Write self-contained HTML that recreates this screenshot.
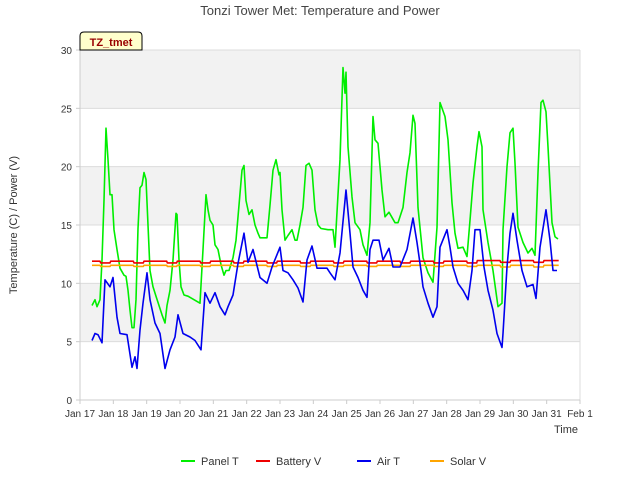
<!DOCTYPE html>
<html><head><meta charset="utf-8"><style>
body{margin:0;background:#fff;}
svg{display:block;font-family:"Liberation Sans","DejaVu Sans",sans-serif;}
</style></head><body>
<svg id="c" width="640" height="480" viewBox="0 0 640 480">
<text x="320" y="15" text-anchor="middle" font-size="13" fill="#444">Tonzi Tower Met: Temperature and Power</text>
<g id="bands"></g>
<g id="grid"></g>
<g id="series"></g>
<g id="axes"></g>
<text transform="translate(17,225) rotate(-90)" text-anchor="middle" font-size="11" fill="#333">Temperature (C) / Power (V)</text>
<text x="566" y="433" text-anchor="middle" font-size="11" fill="#333">Time</text>
<g>
<path d="M80,50 L80,36 Q80,32 84,32 L138,32 Q142,32 142,36 L142,50 Z" fill="#ffffcc" stroke="#000" stroke-width="1"/>
<text x="111" y="46" text-anchor="middle" font-size="11" font-weight="bold" fill="#990000">TZ_tmet</text>
</g>
<g id="legend">
<g><line x1="181" y1="461" x2="195" y2="461" stroke="#00ee00" stroke-width="2"/><text x="201" y="465" font-size="11" fill="#333">Panel T</text></g>
<g><line x1="256" y1="461" x2="270" y2="461" stroke="#ee0000" stroke-width="2"/><text x="276" y="465" font-size="11" fill="#333">Battery V</text></g>
<g><line x1="357" y1="461" x2="371" y2="461" stroke="#0000ee" stroke-width="2"/><text x="377" y="465" font-size="11" fill="#333">Air T</text></g>
<g><line x1="430" y1="461" x2="444" y2="461" stroke="#ffa500" stroke-width="2"/><text x="450" y="465" font-size="11" fill="#333">Solar V</text></g>
</g>
</svg>
<script>
const xTickLabels=["Jan 17","Jan 18","Jan 19","Jan 20","Jan 21","Jan 22","Jan 23","Jan 24","Jan 25","Jan 26","Jan 27","Jan 28","Jan 29","Jan 30","Jan 31","Feb 1"];
const yTicks=[0,5,10,15,20,25,30];
const panelT=[.36,8.1,.45,8.6,.51,8.0,.6,8.6,.66,12.0,.72,17.1,.78,23.3,.84,20.6,.9,17.6,.96,17.6,1.02,14.6,1.11,12.9,1.2,11.3,1.32,10.7,1.38,10.6,1.44,9.4,1.5,7.7,1.56,6.2,1.62,6.2,1.68,8.6,1.74,14.7,1.8,18.2,1.86,18.4,1.92,19.5,1.98,18.9,2.04,15.0,2.1,11.1,2.19,9.7,2.28,8.9,2.37,8.1,2.46,7.3,2.55,6.6,2.61,8.1,2.7,9.4,2.79,12.0,2.88,16.0,2.91,15.9,2.97,12.0,3.03,9.7,3.12,9.0,3.24,8.9,3.42,8.6,3.6,8.3,3.69,12.9,3.78,17.6,3.84,16.3,3.9,15.4,3.99,15.0,4.05,13.3,4.14,12.9,4.23,11.6,4.32,10.7,4.38,11.1,4.47,11.1,4.59,12.2,4.68,13.7,4.77,16.7,4.86,19.7,4.92,20.1,4.98,17.1,5.07,15.9,5.16,16.3,5.25,15.0,5.34,14.3,5.4,13.9,5.61,13.9,5.7,16.7,5.79,19.7,5.88,20.6,5.97,19.3,6.0,19.5,6.06,16.3,6.15,13.7,6.24,14.1,6.36,14.6,6.45,13.7,6.51,13.7,6.6,15.0,6.69,16.5,6.78,20.1,6.87,20.3,6.96,19.7,7.05,16.3,7.14,15.0,7.23,14.7,7.44,14.6,7.59,14.6,7.65,13.1,7.8,20.6,7.89,28.5,7.95,26.3,7.98,28.1,8.04,21.7,8.16,17.4,8.25,15.2,8.4,14.6,8.49,13.3,8.61,12.4,8.7,15.2,8.79,24.3,8.85,22.3,8.94,22.0,9.06,18.0,9.15,15.7,9.27,16.1,9.45,15.2,9.54,15.2,9.69,16.5,9.81,19.5,9.9,21.2,9.99,24.4,10.05,23.7,10.14,16.5,10.29,12.2,10.44,10.9,10.59,10.1,10.71,14.8,10.8,25.5,10.95,24.3,11.04,22.3,11.16,16.9,11.25,14.3,11.34,13.0,11.49,13.1,11.61,12.3,11.7,15.4,11.79,18.6,11.91,21.7,11.97,23.0,12.06,21.7,12.09,16.3,12.24,13.5,12.39,11.1,12.54,8.0,12.66,8.3,12.69,14.6,12.81,20.0,12.9,22.9,12.99,23.3,13.05,20.3,13.14,14.8,13.29,13.5,13.44,12.6,13.56,13.0,13.65,12.4,13.74,19.5,13.83,25.5,13.89,25.7,13.98,24.7,14.04,21.7,14.16,15.2,14.25,14.0,14.34,13.8];
const airT=[.36,5.1,.45,5.7,.54,5.6,.66,4.9,.75,10.3,.9,9.7,.99,10.5,1.11,7.1,1.2,5.7,1.41,5.6,1.56,2.8,1.65,3.7,1.71,2.7,1.8,6.0,1.89,8.3,2.01,10.9,2.1,8.6,2.25,6.6,2.4,5.7,2.55,2.7,2.7,4.3,2.85,5.4,2.94,7.3,3.09,5.7,3.3,5.4,3.45,5.1,3.63,4.3,3.75,9.2,3.9,8.3,4.05,9.2,4.2,8.0,4.35,7.3,4.44,8.0,4.59,9.0,4.74,11.7,4.92,14.3,5.04,11.8,5.19,12.9,5.4,10.5,5.61,10.0,5.76,11.4,6.0,13.1,6.09,11.1,6.24,10.9,6.39,10.3,6.54,9.6,6.69,8.4,6.81,12.0,6.96,13.2,7.11,11.3,7.41,11.3,7.5,10.9,7.65,10.3,7.8,12.6,7.98,18.0,8.1,14.3,8.19,11.4,8.34,10.5,8.49,9.4,8.61,8.8,8.7,12.9,8.79,13.7,8.97,13.7,9.09,12.0,9.27,13.0,9.39,11.4,9.6,11.4,9.81,12.9,9.99,15.6,10.11,13.5,10.23,11.1,10.29,9.7,10.44,8.3,10.59,7.1,10.71,8.0,10.8,13.1,11.01,14.6,11.1,13.1,11.19,11.4,11.34,10.0,11.49,9.4,11.64,8.6,11.76,11.1,11.85,14.6,12.0,14.6,12.12,11.4,12.24,9.4,12.39,7.7,12.51,5.7,12.66,4.5,12.69,5.7,12.81,11.4,12.9,14.3,12.99,16.0,13.11,13.7,13.26,11.1,13.41,9.7,13.59,9.9,13.68,8.7,13.8,13.1,13.98,16.3,14.1,13.7,14.19,11.1,14.31,11.1];
const batteryV=[.36,11.9,.6,11.9,.62,11.75,.9,11.75,.92,11.9,1.6,11.9,1.62,11.75,1.9,11.75,1.92,11.9,2.6,11.9,2.62,11.75,2.9,11.75,2.92,11.9,3.6,11.9,3.62,11.75,3.9,11.75,3.92,11.9,4.6,11.9,4.62,11.75,4.9,11.75,4.92,11.9,5.6,11.9,5.62,11.75,5.9,11.75,5.92,11.9,6.6,11.9,6.62,11.75,6.9,11.75,6.92,11.9,7.6,11.9,7.62,11.75,7.9,11.75,7.92,11.9,8.6,11.9,8.62,11.75,8.9,11.75,8.92,11.9,9.6,11.9,9.62,11.75,9.9,11.75,9.92,11.9,10.6,11.9,10.62,11.75,10.9,11.75,10.92,11.9,11.6,11.9,11.62,11.75,11.9,11.75,11.92,11.95,12.6,11.95,12.62,11.8,12.9,11.8,12.92,11.95,13.6,11.95,13.62,11.8,13.9,11.8,13.92,11.95,14.36,11.95];
const solarV=[.36,11.55,.6,11.55,.62,11.45,.9,11.45,.92,11.55,1.6,11.55,1.62,11.45,1.9,11.45,1.92,11.55,2.6,11.55,2.62,11.45,2.9,11.45,2.92,11.55,3.6,11.55,3.62,11.45,3.9,11.45,3.92,11.55,4.6,11.55,4.62,11.45,4.9,11.45,4.92,11.55,5.6,11.55,5.62,11.45,5.9,11.45,5.92,11.55,6.6,11.55,6.62,11.45,6.9,11.45,6.92,11.55,7.6,11.55,7.62,11.45,7.9,11.45,7.92,11.55,8.6,11.55,8.62,11.45,8.9,11.45,8.92,11.55,9.6,11.55,9.62,11.45,9.9,11.45,9.92,11.55,10.6,11.55,10.62,11.45,10.9,11.45,10.92,11.55,11.6,11.55,11.62,11.45,11.9,11.45,11.92,11.55,12.6,11.55,12.62,11.4,12.9,11.4,12.92,11.55,13.6,11.55,13.62,11.4,13.9,11.4,13.92,11.55,14.36,11.55];

const NS="http://www.w3.org/2000/svg";
const L=80,R=580,T=50,B=400;
function xs(d){return L+(R-L)*d/15;}
function ys(v){return B-(B-T)*v/30;}
function mk(tag,attrs,parent){const e=document.createElementNS(NS,tag);for(const k in attrs)e.setAttribute(k,attrs[k]);parent.appendChild(e);return e;}
const bands=document.getElementById('bands'),grid=document.getElementById('grid'),axes=document.getElementById('axes'),ser=document.getElementById('series');
mk('rect',{x:L,y:T,width:R-L,height:B-T,fill:'#fff'},bands);
for(let i=0;i<6;i++){
  if(i%2===1){
    const r=mk('rect',{x:L,y:ys(yTicks[i+1]),width:R-L,height:ys(yTicks[i])-ys(yTicks[i+1]),fill:'#f2f2f2'},bands);
    
    
  }
}
yTicks.forEach(v=>{
  const g=mk('line',{x1:L,x2:R,y1:ys(v),y2:ys(v),stroke:'#dcdcdc','stroke-width':1},grid);
  
  
  const t=mk('text',{x:L-8,y:ys(v)+4,'text-anchor':'end','font-size':10,fill:'#333'},axes);
  t.textContent=v;
  
  
  mk('line',{x1:L-4,x2:L,y1:ys(v),y2:ys(v),stroke:'#ccc'},axes);
});
mk('line',{x1:L,x2:L,y1:T,y2:B,stroke:'#ccc'},axes);
mk('line',{x1:R,x2:R,y1:T,y2:B,stroke:'#ddd'},axes);
mk('line',{x1:L,x2:R,y1:B,y2:B,stroke:'#ccc'},axes);
xTickLabels.forEach((s,i)=>{
  mk('line',{x1:xs(i),x2:xs(i),y1:B,y2:B+4,stroke:'#ccc'},axes);
  const t=mk('text',{x:xs(i),y:B+17,'text-anchor':'middle','font-size':10,fill:'#333'},axes);
  t.textContent=s;
  
  
});
function line(arr,color,name){
  let d='';
  for(let i=0;i<arr.length;i+=2)d+=(i?'L':'M')+xs(arr[i]).toFixed(1)+','+ys(arr[i+1]).toFixed(1);
  const p=mk('path',{d:d,fill:'none',stroke:color,'stroke-width':1.6,'stroke-linejoin':'round'},ser);
  
  
}
line(panelT,'#00ee00','panel-t-line');
line(batteryV,'#ee0000','battery-v-line');
line(solarV,'#ffa500','solar-v-line');
line(airT,'#0000ee','air-t-line');
</script>
</body></html>
